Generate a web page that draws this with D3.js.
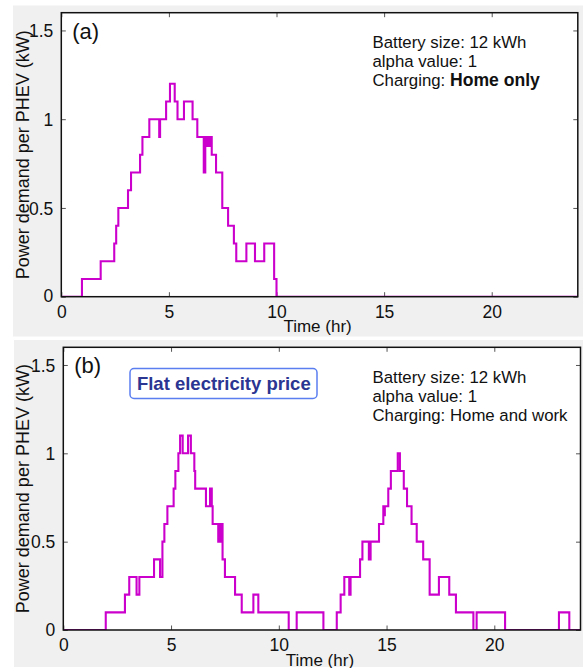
<!DOCTYPE html>
<html>
<head>
<meta charset="utf-8">
<script src="https://cdn.jsdelivr.net/npm/d3@7"></script>
<style>
  html, body { margin: 0; padding: 0; background: #ffffff; }
  svg { display: block; font-family: "Liberation Sans", Arial, sans-serif; }
</style>
</head>
<body>
<svg id="chart" width="583" height="668"></svg>
<script>
// Hourly PHEV charging demand, step series (time in hours, demand in kW)
const homeOnlyTimes = [0, 0.96, 1.83, 2.46, 2.55, 2.65, 3.1, 3.24, 3.66, 3.77, 4.09, 4.55, 4.59,
  4.87, 5.05, 5.27, 5.4, 5.7, 6.1, 6.32, 6.62, 6.69, 6.76, 6.8, 6.86, 6.9, 6.99, 7.19, 7.48,
  7.75, 8.02, 8.13, 8.6, 9.0, 9.43, 9.89, 10.0, 24];
const homeOnlyValues = [0, 0.1, 0.2, 0.3, 0.4, 0.5, 0.6, 0.7, 0.8, 0.9, 1.0, 0.9, 1.0,
  1.1, 1.2, 1.1, 1.0, 1.1, 1.0, 0.9, 0.7, 0.9, 0.85, 0.9, 0.85, 0.9, 0.8, 0.7, 0.5,
  0.4, 0.3, 0.2, 0.3, 0.2, 0.3, 0.1, 0, 0];

const homeWorkTimes = [0, 1.97, 2.86, 3.06, 3.4, 3.53, 4.21, 4.49, 4.6, 4.69, 4.83, 5.12, 5.2,
  5.34, 5.42, 5.54, 5.79, 5.92, 6.08, 6.12, 6.62, 6.81, 6.89, 6.93, 7.19, 7.27, 7.31, 7.34,
  7.39, 7.5, 7.97, 8.28, 8.82, 9.05, 10.46, 10.83, 12.07, 12.69, 12.87, 13.04, 13.27, 13.33,
  13.77, 13.88, 14.18, 14.26, 14.65, 14.85, 14.88, 14.92, 15.08, 15.2, 15.52, 15.62, 15.8,
  15.95, 16.16, 16.4, 16.7, 17.0, 17.43, 17.91, 18.22, 19.03, 19.18, 20.5, 23.0, 23.48, 24];
const homeWorkValues = [0, 0.1, 0.2, 0.3, 0.2, 0.3, 0.4, 0.3, 0.5, 0.6, 0.7, 0.8, 0.9,
  1.0, 1.1, 1.0, 1.1, 1.0, 0.9, 0.8, 0.7, 0.8, 0.7, 0.6, 0.5, 0.6, 0.5, 0.6,
  0.4, 0.3, 0.2, 0.1, 0.2, 0.1, 0, 0.1, 0, 0.1, 0.2, 0.3, 0.2, 0.3,
  0.4, 0.5, 0.4, 0.5, 0.6, 0.7, 0.65, 0.7, 0.8, 0.9, 1.0, 0.9, 0.8,
  0.7, 0.6, 0.5, 0.4, 0.2, 0.3, 0.2, 0.1, 0, 0.1, 0, 0.1, 0, 0];

const xTicks = [0, 5, 10, 15, 20];
const yTicks = [0, 0.5, 1, 1.5];
const panelLetters = ["(a)", "(b)"];
const batteryText = "Battery size: 12 kWh";
const alphaText = "alpha value: 1";
const chargingModes = ["Home only", "Home and work"];
const priceLabel = "Flat electricity price";

const panels = [
  { letter: panelLetters[0], times: homeOnlyTimes, values: homeOnlyValues, mode: chargingModes[0], boldMode: true,
    bg: { x: 13, y: 5.5, w: 570, h: 331 },
    box: { left: 61.3, right: 577.8, top: 12.7, bottom: 296.7 }, price: false },
  { letter: panelLetters[1], times: homeWorkTimes, values: homeWorkValues, mode: chargingModes[1], boldMode: false,
    bg: { x: 14, y: 340, w: 569, h: 327 },
    box: { left: 63.3, right: 580.5, top: 347.3, bottom: 630 }, price: true }
];

const svg = d3.select("#chart");
const lineColor = "#cc00cc";

panels.forEach((p, i) => {
  const g = svg.append("g");
  const b = p.box;

  g.append("rect").attr("x", p.bg.x).attr("y", p.bg.y).attr("width", p.bg.w).attr("height", p.bg.h)
    .attr("fill", "#f0f0f0");
  g.append("rect").attr("x", b.left).attr("y", b.top).attr("width", b.right - b.left).attr("height", b.bottom - b.top)
    .attr("fill", "#ffffff");

  const x = d3.scaleLinear().domain([0, 24]).range([b.left, b.right]);
  const y = d3.scaleLinear().domain([0, 1.6]).range([b.bottom, b.top]);

  // Tick marks point inward on all four sides
  const tl = 4.5;
  const axB = d3.axisBottom(x).tickValues(xTicks).tickSizeInner(-tl).tickSizeOuter(0).tickPadding(9).tickFormat(d3.format("d"));
  const axT = d3.axisTop(x).tickValues(xTicks).tickSizeInner(-tl).tickSizeOuter(0).tickFormat("");
  const axL = d3.axisLeft(y).tickValues(yTicks).tickSizeInner(-tl).tickSizeOuter(0).tickPadding(8).tickFormat(d => d3.format("")(d));
  const axR = d3.axisRight(y).tickValues(yTicks).tickSizeInner(-tl).tickSizeOuter(0).tickFormat("");

  const gb = g.append("g").attr("transform", `translate(0,${b.bottom})`).call(axB);
  const gt = g.append("g").attr("transform", `translate(0,${b.top})`).call(axT);
  const gl = g.append("g").attr("transform", `translate(${b.left},0)`).call(axL);
  const gr = g.append("g").attr("transform", `translate(${b.right},0)`).call(axR);
  [gb, gt, gl, gr].forEach(a => {
    a.select(".domain").remove();
    a.selectAll(".tick line").attr("stroke", "#555").attr("stroke-width", 1);
    a.selectAll(".tick text").attr("fill", "#111").style("font-size", "17.5px")
      .style("font-family", "'Liberation Sans', Arial, sans-serif");
  });
  gl.selectAll(".tick text").attr("dy", "0.36em");
  // the y "0" label sits a little above the x "0"
  gl.selectAll(".tick").filter(d => d === 0).select("text").attr("dy", "0.3em");

  // demand curve
  const clipId = "clip" + i;
  svg.append("clipPath").attr("id", clipId).append("rect")
    .attr("x", b.left).attr("y", b.top - 2).attr("width", b.right - b.left).attr("height", b.bottom - b.top + 2);
  const pts = p.times.map((t, k) => [t, p.values[k]]);
  const line = d3.line().x(d => x(d[0])).y(d => y(d[1])).curve(d3.curveStepAfter);
  g.append("path").datum(pts).attr("d", line).attr("fill", "none")
    .attr("stroke", lineColor).attr("stroke-width", 2.1).attr("stroke-linejoin", "miter")
    .attr("clip-path", `url(#${clipId})`);

  // plot frame
  g.append("rect").attr("x", b.left).attr("y", b.top).attr("width", b.right - b.left).attr("height", b.bottom - b.top)
    .attr("fill", "none").attr("stroke", "#111").attr("stroke-width", 1.5);

  // panel letter
  g.append("text").attr("x", b.left + 11).attr("y", b.top + 26).text(p.letter)
    .style("font-size", "22px").attr("fill", "#111");

  // axis titles
  g.append("text").attr("x", (b.left + b.right) / 2 - 2).attr("y", b.bottom + 35.5)
    .attr("text-anchor", "middle").style("font-size", "17px").attr("fill", "#111").text("Time (hr)");
  g.append("text").attr("transform", `translate(${29},${(b.top + b.bottom) / 2}) rotate(-90)`)
    .attr("text-anchor", "middle").style("font-size", "18px").attr("fill", "#111")
    .text("Power demand per PHEV (kW)");

  // scenario annotation
  const ax0 = 372.5, ay0 = b.top + 35.5;
  const fs = "16.8px";
  g.append("text").attr("x", ax0).attr("y", ay0).style("font-size", fs).attr("fill", "#111").text(batteryText);
  g.append("text").attr("x", ax0).attr("y", ay0 + 19).style("font-size", fs).attr("fill", "#111").text(alphaText);
  const ct = g.append("text").attr("x", ax0).attr("y", ay0 + 38).style("font-size", fs).attr("fill", "#111");
  ct.append("tspan").text("Charging: ");
  ct.append("tspan").text(p.mode).style("font-weight", p.boldMode ? "bold" : "normal")
    .style("font-size", p.boldMode ? "17.6px" : fs);

  if (p.price) {
    g.append("rect").attr("x", 130).attr("y", 368.5).attr("width", 187).attr("height", 30).attr("rx", 4)
      .attr("fill", "#ffffff").attr("stroke", "#5a7ef0").attr("stroke-width", 1.5);
    g.append("text").attr("x", 223.8).attr("y", 389.5).attr("text-anchor", "middle")
      .style("font-size", "18.5px").style("font-weight", "bold").attr("fill", "#2b3592").text(priceLabel);
  }
});
</script>
</body>
</html>
